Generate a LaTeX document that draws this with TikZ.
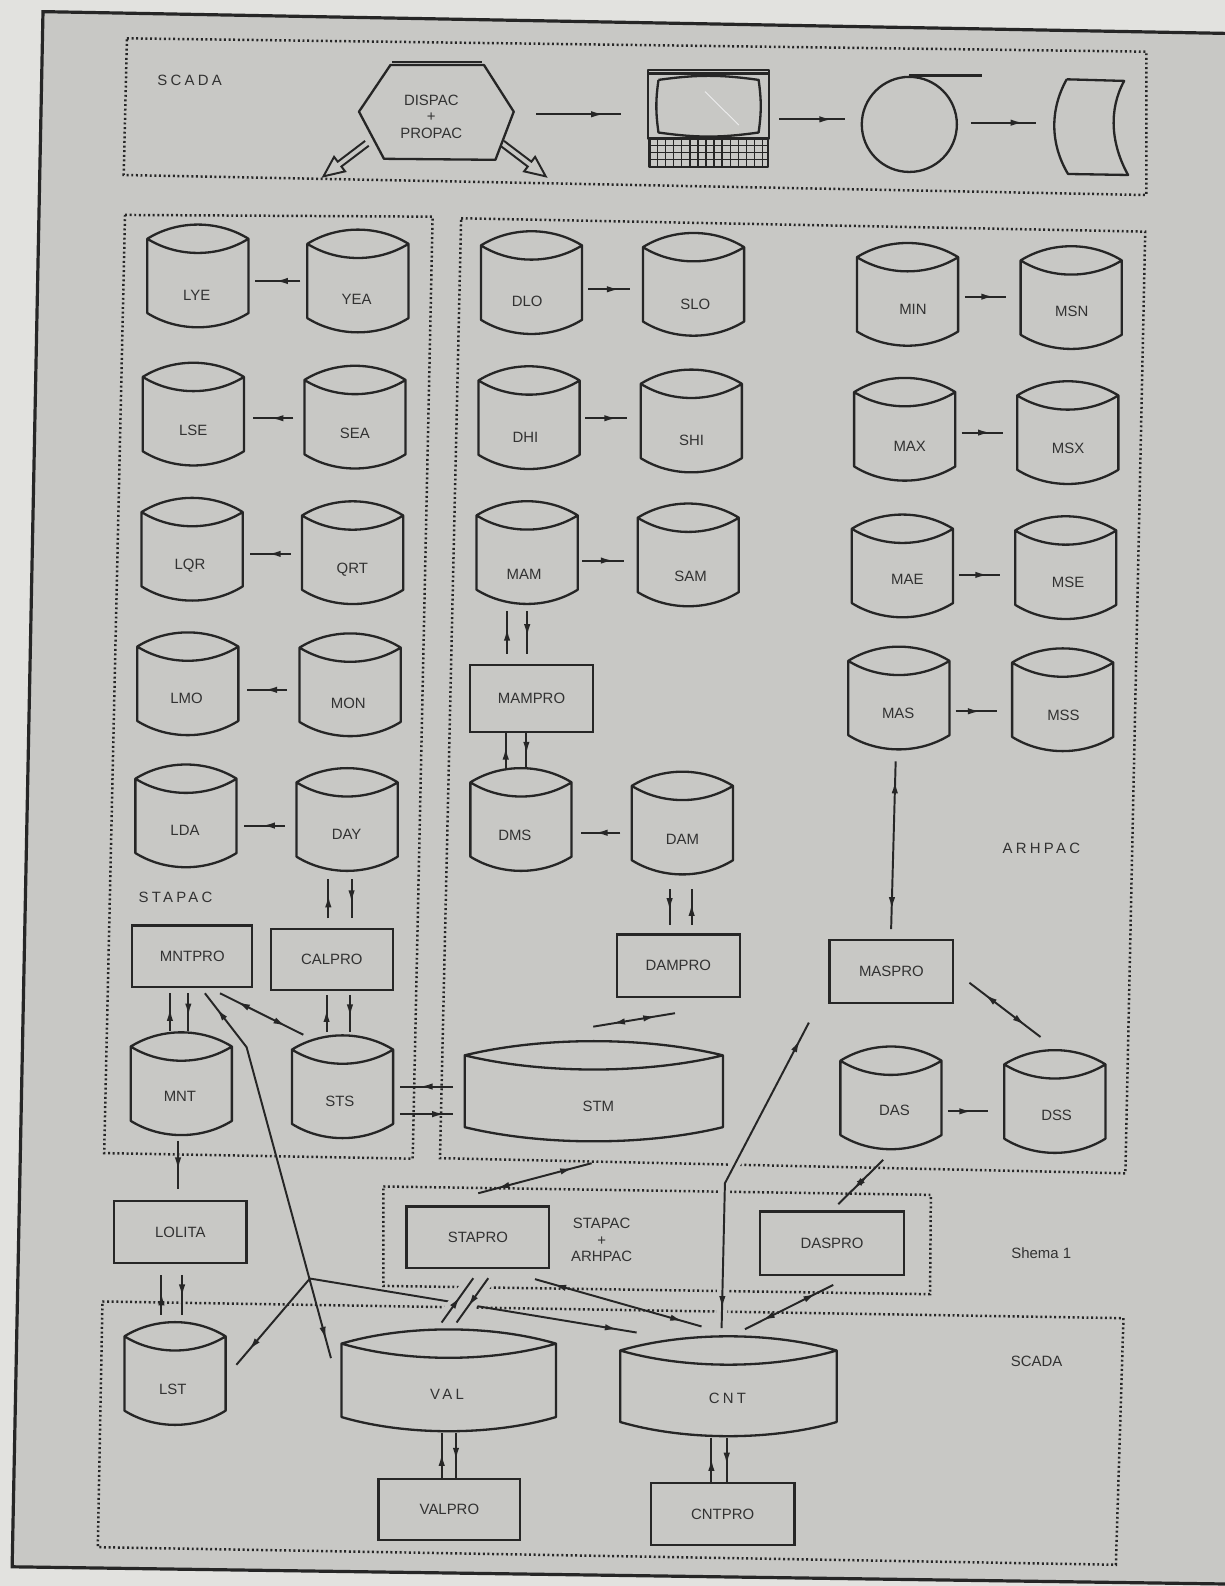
\documentclass[tikz,border=0pt]{standalone}
\usepackage{fontspec}
\setmainfont{Liberation Sans}
\newfontfamily\spc[LetterSpace=22]{Liberation Sans}
\usetikzlibrary{arrows.meta,decorations.markings}

\definecolor{pagec}{RGB}{226,226,223}
\definecolor{bgc}{RGB}{200,200,197}
\definecolor{inkc}{RGB}{38,38,38}
\definecolor{txtc}{RGB}{50,50,50}

\tikzset{
  tipA/.tip={Latex[length=7pt,width=3.6pt]},
  shp/.style={draw=inkc, line width=1.3pt, line join=round},
  dotbox/.style={draw=inkc, line width=1.4pt, dash pattern=on 1.1pt off 1.5pt},
  lk/.style={draw=inkc, line width=1.1pt},
  fw/.style={lk, postaction={decorate}, decoration={markings, mark=at position #1 with {\arrow{tipA}}}},
  bi/.style={lk, postaction={decorate}, decoration={markings, mark=at position 11pt with {\arrowreversed{tipA}}, mark=at position -11pt with {\arrow{tipA}}}},
  bim/.style 2 args={lk, postaction={decorate}, decoration={markings, mark=at position #1 with {\arrowreversed{tipA}}, mark=at position #2 with {\arrow{tipA}}}},
  gapbg/.style={preaction={draw=bgc, line width=#1}},
  lbl/.style={text=txtc, font=\fontsize{8.4}{9.4}\selectfont, inner sep=0pt},
  boxn/.style={draw=inkc, line width=1.3pt, inner sep=0pt, text=txtc, font=\fontsize{8.4}{9.4}\selectfont},
}

% cylinder: name, cx, top, w, h, text, lx, ly
\newcommand\dbc[8]{%
  \node[inner sep=0pt, minimum width=#4*0.02cm, minimum height=#5*0.02cm] (#1) at (#2,{#3+#5/2}) {};
  \begin{scope}[shift={(#1.north west)}]
    \draw[shp] (0,14) .. controls +({0.3*#4},-18.7) and +({-0.3*#4},-18.7) .. (#4,14)
      .. controls +({-0.3*#4},18.7) and +({0.3*#4},18.7) .. (0,14)
      -- (0,{#5-14}) .. controls +({0.3*#4},18.7) and +({-0.3*#4},18.7) .. (#4,{#5-14}) -- (#4,14);
  \end{scope}
  \node[lbl] (#1-l) at (#7,#8) {#6};
}
\newcommand\scyl[6]{\dbc{#1}{#2}{#3}{100}{101.5}{#4}{#5}{#6}}
% process box: name, x1, y1, x2, y2, text
\newcommand\pbx[6]{%
  \node[boxn, minimum width=(#4-#2)*0.02cm, minimum height=(#5-#3)*0.02cm] (#1) at ({(#2+#4)/2},{(#3+#5)/2}) {#6};}
% connector between named coordinates
\newcommand\lnk[4][lk]{\coordinate (#2a) at (#3); \coordinate (#2b) at (#4); \draw[#1] (#2a) -- (#2b);}

\begin{document}
\begin{tikzpicture}[x=0.02cm, y=-0.02cm]
\useasboundingbox (0,0) rectangle (1211,1568);
\fill[pagec] (0,0) rectangle (1211,1568);
\fill[bgc] (42.5,11.5) -- (1211,33) -- (1211,1566) -- (12,1549) -- cycle;
\draw[inkc, line width=1.8pt] (1211,33) -- (42.5,11.5) -- (12,1549) -- (1211,1566);

% dotted group boxes
\draw[dotbox] (125.5,37.9) -- (1133.4,51.1) -- (1133.4,192.8) -- (122.3,173) -- cycle;
\draw[dotbox] (123.6,212.5) -- (427.7,214.2) -- (408,1145.5) -- (103,1140) -- cycle;
\draw[dotbox] (455.9,215.8) -- (1132.2,229) -- (1112.6,1160) -- (435,1145) -- cycle;
\draw[dotbox] (379,1173) -- (920.3,1181.3) -- (919.5,1279.5) -- (379,1271.3) -- cycle;
\draw[dotbox] (101.3,1286.7) -- (1110.7,1303.2) -- (1103.2,1547) -- (96.7,1529.6) -- cycle;

% ---------- top SCADA row ----------
\node[lbl] (lbSCADA1) at (187.5,79.1) {\spc SCADA};
\draw[shp] (386,64.3) -- (478.5,64.3) -- (507.9,110.4) -- (489.8,158) -- (379.6,157) -- (354.9,110.4) -- cycle;
\draw[shp] (388,61) -- (477,61);
\node[lbl, align=center] (HEX) at (426.4,115.4) {DISPAC\\+\\PROPAC};
\begin{scope}[shift={(362.8,141.7)}, rotate=217.2]
  \draw[lk] (0,-3) -- (34,-3) -- (34,-9) -- (54,0) -- (34,9) -- (34,3) -- (0,3);
\end{scope}
\begin{scope}[shift={(496.5,141.7)}, rotate=322.8]
  \draw[lk] (0,-3) -- (34,-3) -- (34,-9) -- (54,0) -- (34,9) -- (34,3) -- (0,3);
\end{scope}
% terminal
\node[inner sep=0pt, minimum width=120.3*0.02cm, minimum height=95.6*0.02cm] (TERM) at (700.45,117) {};
\draw[shp] (640.3,69.2) rectangle (760.6,136.8);
\draw[shp] (640.3,72.6) -- (760.6,72.6);
\draw[shp] (651,79) to[bend left=8] (750,79) to[bend left=8] (750,131) to[bend left=8] (651,131) to[bend left=8] (651,79);
\draw[line width=0.5pt, white!70!bgc] (697,90.6) -- (730.4,123.6);
\draw[shp] (642,136.8) rectangle (759,164.8);
\foreach \yy in {143.8,150.8,157.8} \draw[inkc, line width=0.8pt] (642,\yy) -- (759,\yy);
\foreach \xx in {650,658,...,754} \draw[inkc, line width=0.8pt] (\xx,136.8) -- (\xx,164.8);
% reel
\node[shp, circle, inner sep=0pt, minimum size=94*0.02cm] (REEL) at (899,123) {};
\draw[inkc, line width=1.8pt] (REEL.north) -- ++(72,0);
% document
\node[inner sep=0pt, minimum width=74*0.02cm, minimum height=95*0.02cm] (DOC) at (1078,125.5) {};
\draw[shp] (1054.6,78.4) -- (1111.4,80) .. controls (1096,108) and (1098,142) .. (1115.3,173) -- (1055.9,172) .. controls (1038,142) and (1038,108) .. (1054.6,78.4);
\lnk[fw=0.8]{t1}{530,113}{613.5,113}
\lnk[fw=0.8]{t2}{770.6,118}{835.4,118}
\lnk[fw=0.8]{t3}{959.8,121.3}{1024.5,121.3}

% ---------- STAPAC ----------
\scyl{LYE}{196}{222.4}{LYE}{194.5}{291.6}
\scyl{YEA}{354.2}{227.4}{YEA}{352.6}{295.9}
\scyl{LSE}{191.5}{359}{LSE}{191.1}{425}
\scyl{SEA}{351.3}{362}{SEA}{350.9}{428.4}
\scyl{LQR}{190.3}{492.6}{LQR}{187.8}{559.5}
\scyl{QRT}{349}{496}{QRT}{348.3}{562.8}
\scyl{LMO}{186}{625.6}{LMO}{184.5}{690.9}
\scyl{MON}{346.5}{626.6}{MON}{344.3}{695.5}
\scyl{LDA}{184.2}{756.2}{LDA}{182.9}{820.5}
\scyl{DAY}{343.5}{759.8}{DAY}{342.7}{824.4}
\scyl{MNT}{179.6}{1021}{MNT}{177.9}{1084.4}
\scyl{STS}{339}{1024}{STS}{336}{1088.8}
\node[lbl] (lbSTAPAC) at (173.5,887.6) {\spc STAPAC};
\pbx{MNTPRO}{130.8}{915}{249.4}{975.8}{MNTPRO}
\pbx{CALPRO}{267.6}{918.6}{388.5}{978.6}{CALPRO}

% ---------- ARHPAC ----------
\scyl{DLO}{525.8}{229}{DLO}{521.2}{298.2}
\scyl{SLO}{686}{230.7}{SLO}{687.4}{300.5}
\scyl{DHI}{523.4}{362.5}{DHI}{519.5}{432.3}
\scyl{SHI}{683.8}{365.8}{SHI}{683.8}{435}
\scyl{MAM}{521.5}{495.9}{MAM}{518.1}{567.4}
\scyl{SAM}{680.8}{498.2}{SAM}{682.8}{569.4}
\scyl{DMS}{515.4}{759.8}{DMS}{509}{826}
\scyl{DAM}{675}{763.3}{DAM}{674.7}{829.7}
\scyl{MIN}{897.6}{240.6}{MIN}{902.6}{305.8}
\scyl{MSN}{1059.4}{243.8}{MSN}{1059.6}{308.1}
\scyl{MAX}{894.8}{374}{MAX}{899.4}{440.9}
\scyl{MSX}{1056}{377.3}{MSX}{1056}{443.2}
\scyl{MAE}{892.5}{509.1}{MAE}{897.1}{572.7}
\scyl{MSE}{1054}{510.8}{MSE}{1056}{576}
\scyl{MAS}{889}{639.7}{MAS}{888}{705}
\scyl{MSS}{1051}{641.4}{MSS}{1051.4}{707.5}
\scyl{DAS}{881.2}{1035}{DAS}{884.3}{1098}
\scyl{DSS}{1043.2}{1038.6}{DSS}{1044.6}{1102.2}
\dbc{STM}{587.4}{1029.7}{255.3}{99}{STM}{591.5}{1093.3}
\pbx{MAMPRO}{465}{657.4}{586}{723.7}{MAMPRO}
\pbx{DAMPRO}{609.8}{923.9}{731.4}{985.7}{DAMPRO}
\pbx{MASPRO}{820}{929.2}{942.5}{991.7}{MASPRO}
\node[lbl] (lbARHPAC) at (1029.5,839.2) {\spc ARHPAC};

% ---------- middle / bottom ----------
\pbx{LOLITA}{113}{1187.3}{243.6}{1248.8}{LOLITA}
\pbx{STAPRO}{402}{1192.8}{543}{1253.8}{STAPRO}
\pbx{DASPRO}{751.3}{1197.7}{893.9}{1260.4}{DASPRO}
\node[lbl, align=center] (lbMID) at (594.8,1225.8) {STAPAC\\+\\ARHPAC};
\node[lbl] (lbSHEMA) at (1029.4,1239) {Shema 1};
\node[lbl] (lbSCADA2) at (1024.8,1346) {SCADA};
\scyl{LST}{173.4}{1307.5}{LST}{170.9}{1374}
\dbc{VAL}{444}{1314.7}{212}{100.6}{\spc VAL}{442}{1379}
\dbc{CNT}{720.5}{1321.5}{214}{98.7}{\spc CNT}{719.2}{1382.3}
\pbx{VALPRO}{374.2}{1462.4}{514.4}{1522.3}{VALPRO}
\pbx{CNTPRO}{643.5}{1466.3}{785.4}{1527.3}{CNTPRO}

% ---------- connectors ----------
\lnk[fw=0.55]{h1}{297,277.8}{252,277.8}
\lnk[fw=0.55]{h2}{290,413.5}{249.8,413.5}
\lnk[fw=0.55]{h3}{287.4,547.6}{247,547.6}
\lnk[fw=0.55]{h4}{283.4,682}{243.8,682}
\lnk[fw=0.55]{h5}{281.7,816.2}{241.2,816.2}
\lnk[fw=0.75]{h6}{581.7,286}{622.5,286}
\lnk[fw=0.75]{h7}{578.5,413.5}{620.2,413.5}
\lnk[fw=0.75]{h8}{575.7,554.2}{616.6,554.2}
\lnk[fw=0.65]{h9}{613.4,823.3}{574.8,823.3}
\lnk[fw=0.7]{h10}{953.8,293.3}{994.7,293.3}
\lnk[fw=0.7]{h11}{950.6,427.7}{991.5,427.7}
\lnk[fw=0.7]{h12}{948,568.4}{988.8,568.4}
\lnk[fw=0.6]{h13}{944.8,703.2}{985.6,703.2}
\lnk[fw=0.6]{h14}{937,1098.7}{976.5,1098.7}

\lnk[fw=0.6]{v1}{324.6,908}{324.6,869.2}
\lnk[fw=0.6]{v2}{347.6,869.2}{347.6,908}
\lnk[fw=0.6]{v3}{168,1019.2}{168,982.2}
\lnk[fw=0.6]{v4}{186.2,982.2}{186.2,1019.2}
\lnk[fw=0.6]{v5}{322.9,1019.8}{322.9,983.6}
\lnk[fw=0.6]{v6}{346,983.6}{346,1019.8}
\lnk[fw=0.6]{v7}{501.3,646.1}{501.3,604.4}
\lnk[fw=0.6]{v8}{521.2,604.4}{521.2,646.1}
\lnk[fw=0.6]{v9}{500,759.8}{500,724.5}
\lnk[fw=0.6]{v10}{520.4,724.5}{520.4,759.8}
\lnk[fw=0.6]{v11}{662,879}{662,914.4}
\lnk[fw=0.6]{v12}{683.8,914.4}{683.8,879}
\lnk[fw=0.6]{v13}{176,1128}{176,1175.7}
\lnk[fw=0.55]{v14}{159.6,1300}{159.6,1260.4}
\lnk[fw=0.55]{v15}{180,1260.4}{180,1300}
\lnk[fw=0.55]{v16}{436.7,1461.4}{436.7,1416.9}
\lnk[fw=0.6]{v17}{450.8,1416.9}{450.8,1461.4}
\lnk[fw=0.55]{v18}{703.3,1466.3}{703.3,1421.9}
\lnk[fw=0.6]{v19}{718.5,1421.9}{718.5,1466.3}

\lnk[fw=0.62]{s1}{448,1074.2}{395.4,1074.2}
\lnk[fw=0.84]{s2}{395.4,1101.5}{448,1101.5}

\lnk[bi]{b1}{217.5,982}{299.9,1023}
\lnk[bi]{b2}{472.8,1179.7}{584.9,1150}
\lnk[bi]{b3}{586.5,1015}{667.3,1001.7}
\lnk[bi]{b4}{528.9,1264.6}{693.6,1311.4}
\lnk[bi]{b5}{823.8,1270.3}{736.5,1314.1}
\lnk[bim={0.34}{0.66}]{b6}{873.2,1146.7}{828.7,1190.5}
\lnk[bi]{b7}{885.5,752.7}{881,918.6}
\lnk[bi]{b8}{958.4,971.6}{1028.7,1025.2}

\coordinate (mv1) at (202.6,982);
\coordinate (mv2) at (243.8,1035.3);
\coordinate (mv3) at (327.2,1342.7);
\draw[bi] (mv1) -- (mv2) -- (mv3);
\coordinate (J) at (306.4,1264);
\coordinate (lj1) at (233.7,1349.3);
\coordinate (lj2) at (629.4,1317.4);
\draw[bi] (lj1) -- (J) -- (lj2);

\lnk[fw=0.58, gapbg=8pt]{d1}{436.6,1307.5}{467.9,1263.7}
\lnk[fw=0.64, gapbg=8pt]{d2}{482.7,1263.7}{451.4,1307.5}

\coordinate (cm1) at (799.7,1011);
\coordinate (cm2) at (716.7,1169.8);
\coordinate (cm3) at (713.4,1313);
\draw[bi, gapbg=6pt] (cm1) -- (cm2) -- (cm3);
\end{tikzpicture}
\end{document}
